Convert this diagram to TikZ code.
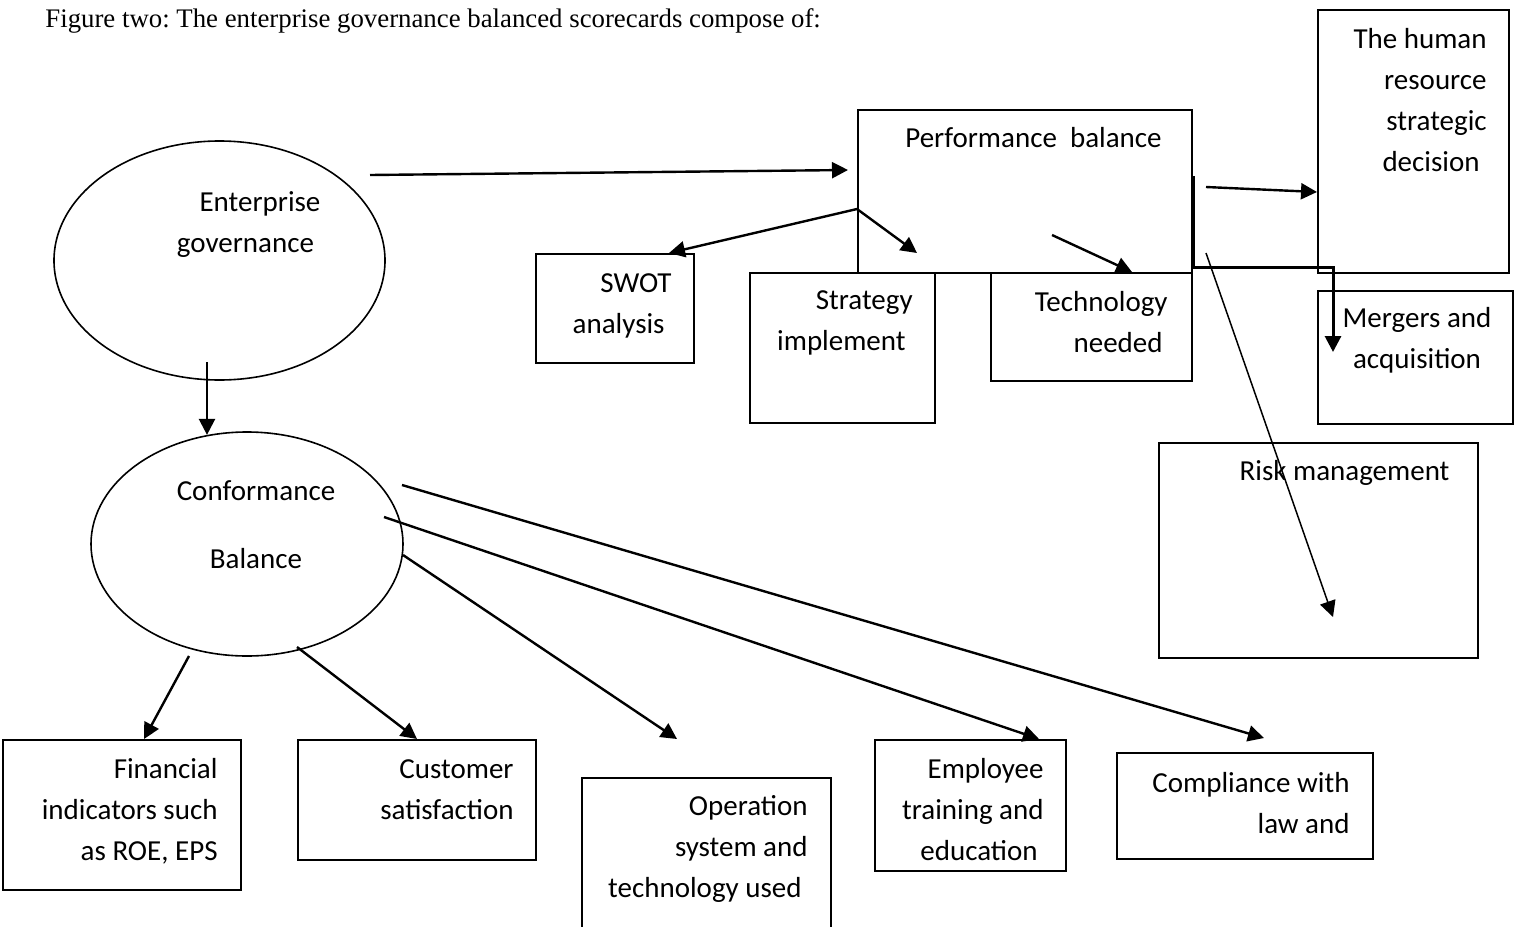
\documentclass[tikz,border=0pt]{standalone}
\usepackage{fontspec}
\setmainfont{Carlito}
\newfontfamily\titlefont{Liberation Serif}
\usepackage{tikz}
\usetikzlibrary{arrows.meta,positioning,shapes.geometric}
\frenchspacing

\begin{document}
\begin{tikzpicture}[
    x=0.5pt, y=-0.5pt,
    box/.style={
        draw,
        line width=1pt,
        inner sep=0pt,
        anchor=north west
    },
    oval/.style={draw, ellipse, line width=0.8pt, inner sep=0pt},
    lbl/.style={font=\fontsize{14.5}{20.5}\selectfont, inner sep=0pt, align=right},
    arrow/.style={-{Triangle[length=8pt,width=8pt]}, line width=1.2pt}
]
\useasboundingbox (0,0) rectangle (1519,926);
\clip (0,0) rectangle (1519,926);

\node[font=\titlefont\fontsize{13.4}{15}\selectfont, anchor=west, inner sep=0pt] (title) at (45,21)
    {Figure two: The enterprise governance balanced scorecards compose of:};

% ovals
\node[oval, minimum width=165.5pt, minimum height=119.5pt] (eg) at (219.5,260.5) {};
\node[oval, minimum width=156pt, minimum height=112pt] (cb) at (247,544) {};
\node[lbl, align=center] (egt) at (245.5,225) {\hspace*{14.5pt}Enterprise\\governance};
\node[lbl, align=center] (cbt) at (256,525) {Conformance\\[13.5pt]Balance};

% performance side
\node[box, minimum width=167pt, minimum height=81.5pt] (pb) at (857,109) {};
\node[box, minimum width=95.5pt, minimum height=131.5pt] (hrd) at (1317,9) {};
\node[box, minimum width=97.5pt, minimum height=66.5pt] (ma) at (1317,290) {};
\node[box, minimum width=79pt, minimum height=54.5pt] (swot) at (535,253) {};
\node[box, minimum width=92.5pt, minimum height=75pt] (si) at (749,272) {};
\node[box, minimum width=100.5pt, minimum height=54pt] (td) at (990,272) {};
\node[box, minimum width=159.5pt, minimum height=107.5pt] (rm) at (1158,442) {};

\node[lbl] (pbt) at (1033.5,138) {Performance\ \ balance};
\node[lbl, anchor=east] (hrdt) at (1487,100) {The human\\resource\\strategic\\decision\hspace*{3.5pt}};
\node[lbl, align=center] (mat) at (1417,340) {Mergers and\\acquisition};
\node[lbl, anchor=east] (swott) at (672,305.5) {SWOT\\analysis\hspace*{3.5pt}};
\node[lbl, anchor=east] (sit) at (913,323) {Strategy\\implement\hspace*{3.5pt}};
\node[lbl, anchor=east] (tdt) at (1168,322) {Technology\\needed\hspace*{2.5pt}};
\node[lbl] (rmt) at (1344.5,473) {Risk management};

% conformance side
\node[box, minimum width=119pt, minimum height=75pt] (fi) at (2,739) {};
\node[box, minimum width=119pt, minimum height=60pt] (cs) at (297,739) {};
\node[box, minimum width=124.5pt, minimum height=85pt] (os) at (581,777) {};
\node[box, minimum width=95.5pt, minimum height=65.5pt] (et) at (874,739) {};
\node[box, minimum width=128pt, minimum height=53pt] (cl) at (1116,752) {};

\node[lbl, anchor=east] (fit) at (218,811) {Financial\\indicators such\\as ROE, EPS};
\node[lbl, anchor=east] (cst) at (514,790) {Customer\\satisfaction};
\node[lbl, anchor=east] (ost) at (808,849) {Operation\\system and\\technology used\hspace*{3pt}};
\node[lbl, anchor=east] (ett) at (1044,810) {Employee\\training and\\education\hspace*{3pt}};
\node[lbl, anchor=east] (clt) at (1350,803) {Compliance with\\law and};

% free ends
\coordinate (egout) at (370,175);
\coordinate (pbin) at (848,170);
\coordinate (pbout) at (1206,187);
\coordinate (madrop) at (1333,352);
\coordinate (fork) at ([yshift=-8.75pt]pb.west);
\coordinate (sipt) at (917,253);
\coordinate (tdin) at (1052,235);
\coordinate (rmin) at (1206,253);
\coordinate (rmend) at (1333,617);
\coordinate (egdown) at (207,362);
\coordinate (cbo1) at (189,656);
\coordinate (cbo2) at (297,647);
\coordinate (cbo3) at (403,555);
\coordinate (cbo4) at (384,517);
\coordinate (cbo5) at (402,485);
\coordinate (ospt) at (677,739);
\coordinate (clpt) at (1264,738);

\draw[arrow] (egout) -- (pbin);
\draw[arrow] (pbout) -- ([yshift=-25.25pt]hrd.west);
\draw[arrow, line width=1.5pt] ([yshift=7.75pt]pb.east) -- ([yshift=3.5pt]pb.south east) -| (madrop);
\draw[arrow] (fork) -- ([xshift=-13pt]swot.north east);
\draw[arrow] (fork) -- (sipt);
\draw[arrow] (tdin) -- ([xshift=-30.5pt]td.north east);
\draw[arrow, line width=0.75pt] (rmin) -- (rmend);

\draw[arrow] (egdown) -- (egdown |- cb.110);
\draw[arrow] (cbo1) -- ([xshift=11pt]fi.north);
\draw[arrow] (cbo2) -- (cs.north);
\draw[arrow] (cbo3) -- (ospt);
\draw[arrow] (cbo4) -- ([xshift=-14pt]et.north east);
\draw[arrow] (cbo5) -- (clpt);
\end{tikzpicture}
\end{document}
